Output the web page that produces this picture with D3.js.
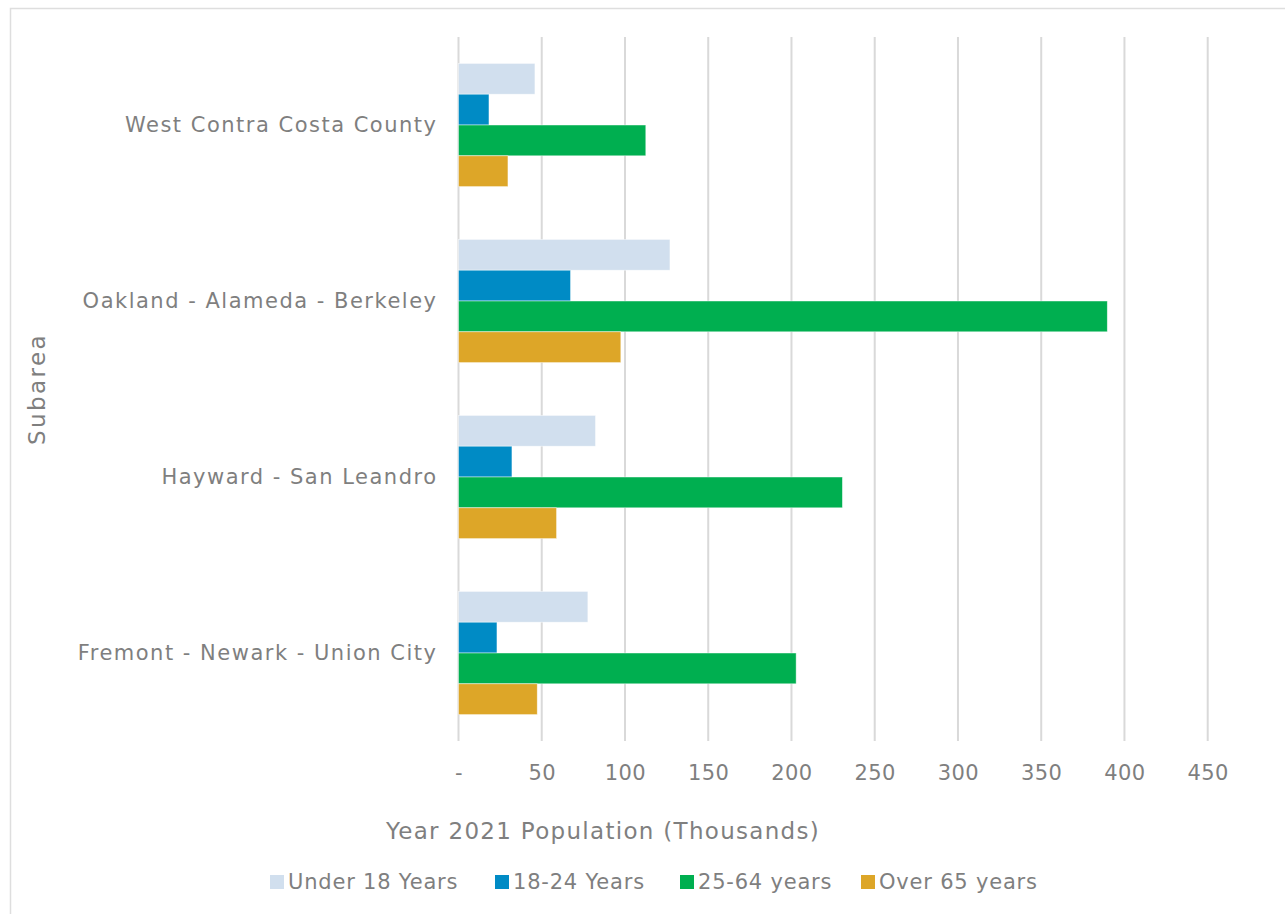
<!DOCTYPE html>
<html>
<head>
<meta charset="utf-8">
<script src="https://cdn.jsdelivr.net/npm/d3@7"></script>
<style>
  html, body { margin: 0; padding: 0; background: #fff; }
  svg { display: block; }
  text { font-family: "DejaVu Sans", sans-serif; fill: #7f7f7f; }
</style>
</head>
<body>
<svg id="chart" width="1285" height="914"></svg>
<script>
// Subareas, top to bottom
const subareas = [
  "West Contra Costa County",
  "Oakland - Alameda - Berkeley",
  "Hayward - San Leandro",
  "Fremont - Newark - Union City"
];

// Age groups (series) and their colours
const ageGroups = ["Under 18 Years", "18-24 Years", "25-64 years", "Over 65 years"];
const ageColors = ["#d1dfee", "#008bc5", "#00af50", "#dda628"];

// Year 2021 population, thousands, per subarea (same order as subareas)
const under18 = [45.9, 127.0, 82.3, 77.7];
const age18to24 = [18.3, 67.3, 32.1, 23.1];
const age25to64 = [112.5, 389.7, 230.6, 202.8];
const over65 = [29.7, 97.5, 58.9, 47.3];

const xTicks = [0, 50, 100, 150, 200, 250, 300, 350, 400, 450];

const seriesValues = [under18, age18to24, age25to64, over65];
const rows = subareas.map((name, i) => ({
  name,
  values: ageGroups.map((g, j) => ({ group: g, value: seriesValues[j][i], color: ageColors[j] }))
}));

const svg = d3.select("#chart");

// Outer chart frame (top and left edges visible)
svg.append("rect")
  .attr("x", 10.5).attr("y", 8.5)
  .attr("width", 1300).attr("height", 1000)
  .attr("fill", "none").attr("stroke", "#dedede").attr("stroke-width", 1.5);

const plot = { left: 458.5, right: 1207.7, top: 37, bottom: 741 };

const x = d3.scaleLinear().domain([0, 450]).range([plot.left, plot.right]);
const y = d3.scaleBand().domain(subareas).range([plot.top, plot.bottom])
  .paddingInner(0.3).paddingOuter(0.15);
const yInner = d3.scaleBand().domain(ageGroups).range([0, y.bandwidth()]);

// Vertical gridlines
svg.append("g").selectAll("line").data(xTicks).join("line")
  .attr("x1", d => x(d)).attr("x2", d => x(d))
  .attr("y1", plot.top).attr("y2", plot.bottom)
  .attr("stroke", "#d9d9d9").attr("stroke-width", 2);

// Bars
const groups = svg.append("g").selectAll("g").data(rows).join("g")
  .attr("transform", d => `translate(0,${y(d.name)})`);
groups.selectAll("rect").data(d => d.values).join("rect")
  .attr("x", x(0))
  .attr("y", d => yInner(d.group))
  .attr("width", d => x(d.value) - x(0))
  .attr("height", yInner.bandwidth())
  .attr("fill", d => d.color)
  .attr("stroke", "rgba(255,255,255,0.6)")
  .attr("stroke-width", 0.75);

// X axis tick labels
const xAxis = d3.axisBottom(x).tickValues(xTicks)
  .tickFormat(d => d === 0 ? "-" : d3.format("d")(d))
  .tickSize(0).tickPadding(0);
const gx = svg.append("g").attr("transform", `translate(0,${plot.bottom})`).call(xAxis);
gx.select(".domain").remove();
gx.selectAll("text")
  .attr("y", 32)
  .attr("dy", "0.35em")
  .style("font-size", "21px")
  .style("letter-spacing", "0.4px")
  .style("fill", "#7f7f7f")
  .style("font-family", "DejaVu Sans, sans-serif");

// Y axis category labels
const yAxis = d3.axisLeft(y).tickSize(0).tickPadding(0);
const gy = svg.append("g").attr("transform", `translate(${plot.left - 21},0)`).call(yAxis);
gy.select(".domain").remove();
gy.selectAll("text")
  .style("font-size", "21px")
  .style("letter-spacing", "1.5px")
  .style("fill", "#7f7f7f")
  .style("font-family", "DejaVu Sans, sans-serif");

// Axis titles
svg.append("text")
  .attr("x", 603).attr("y", 831).attr("dy", "0.35em")
  .attr("text-anchor", "middle")
  .style("font-size", "23px")
  .style("letter-spacing", "1.3px")
  .text("Year 2021 Population (Thousands)");

svg.append("text")
  .attr("transform", "translate(37,389) rotate(-90)")
  .attr("dy", "0.35em")
  .attr("text-anchor", "middle")
  .style("font-size", "23px")
  .style("letter-spacing", "2.4px")
  .text("Subarea");

// Legend
const legendX = [270, 495, 680, 861];
const legend = svg.append("g").selectAll("g").data(ageGroups).join("g")
  .attr("transform", (d, i) => `translate(${legendX[i]},882)`);
legend.append("rect")
  .attr("x", 0).attr("y", -7).attr("width", 14).attr("height", 14)
  .attr("fill", (d, i) => ageColors[i]);
legend.append("text")
  .attr("x", 18).attr("dy", "0.35em")
  .style("font-size", "21px")
  .style("letter-spacing", "0.8px")
  .text(d => d);
</script>
</body>
</html>
